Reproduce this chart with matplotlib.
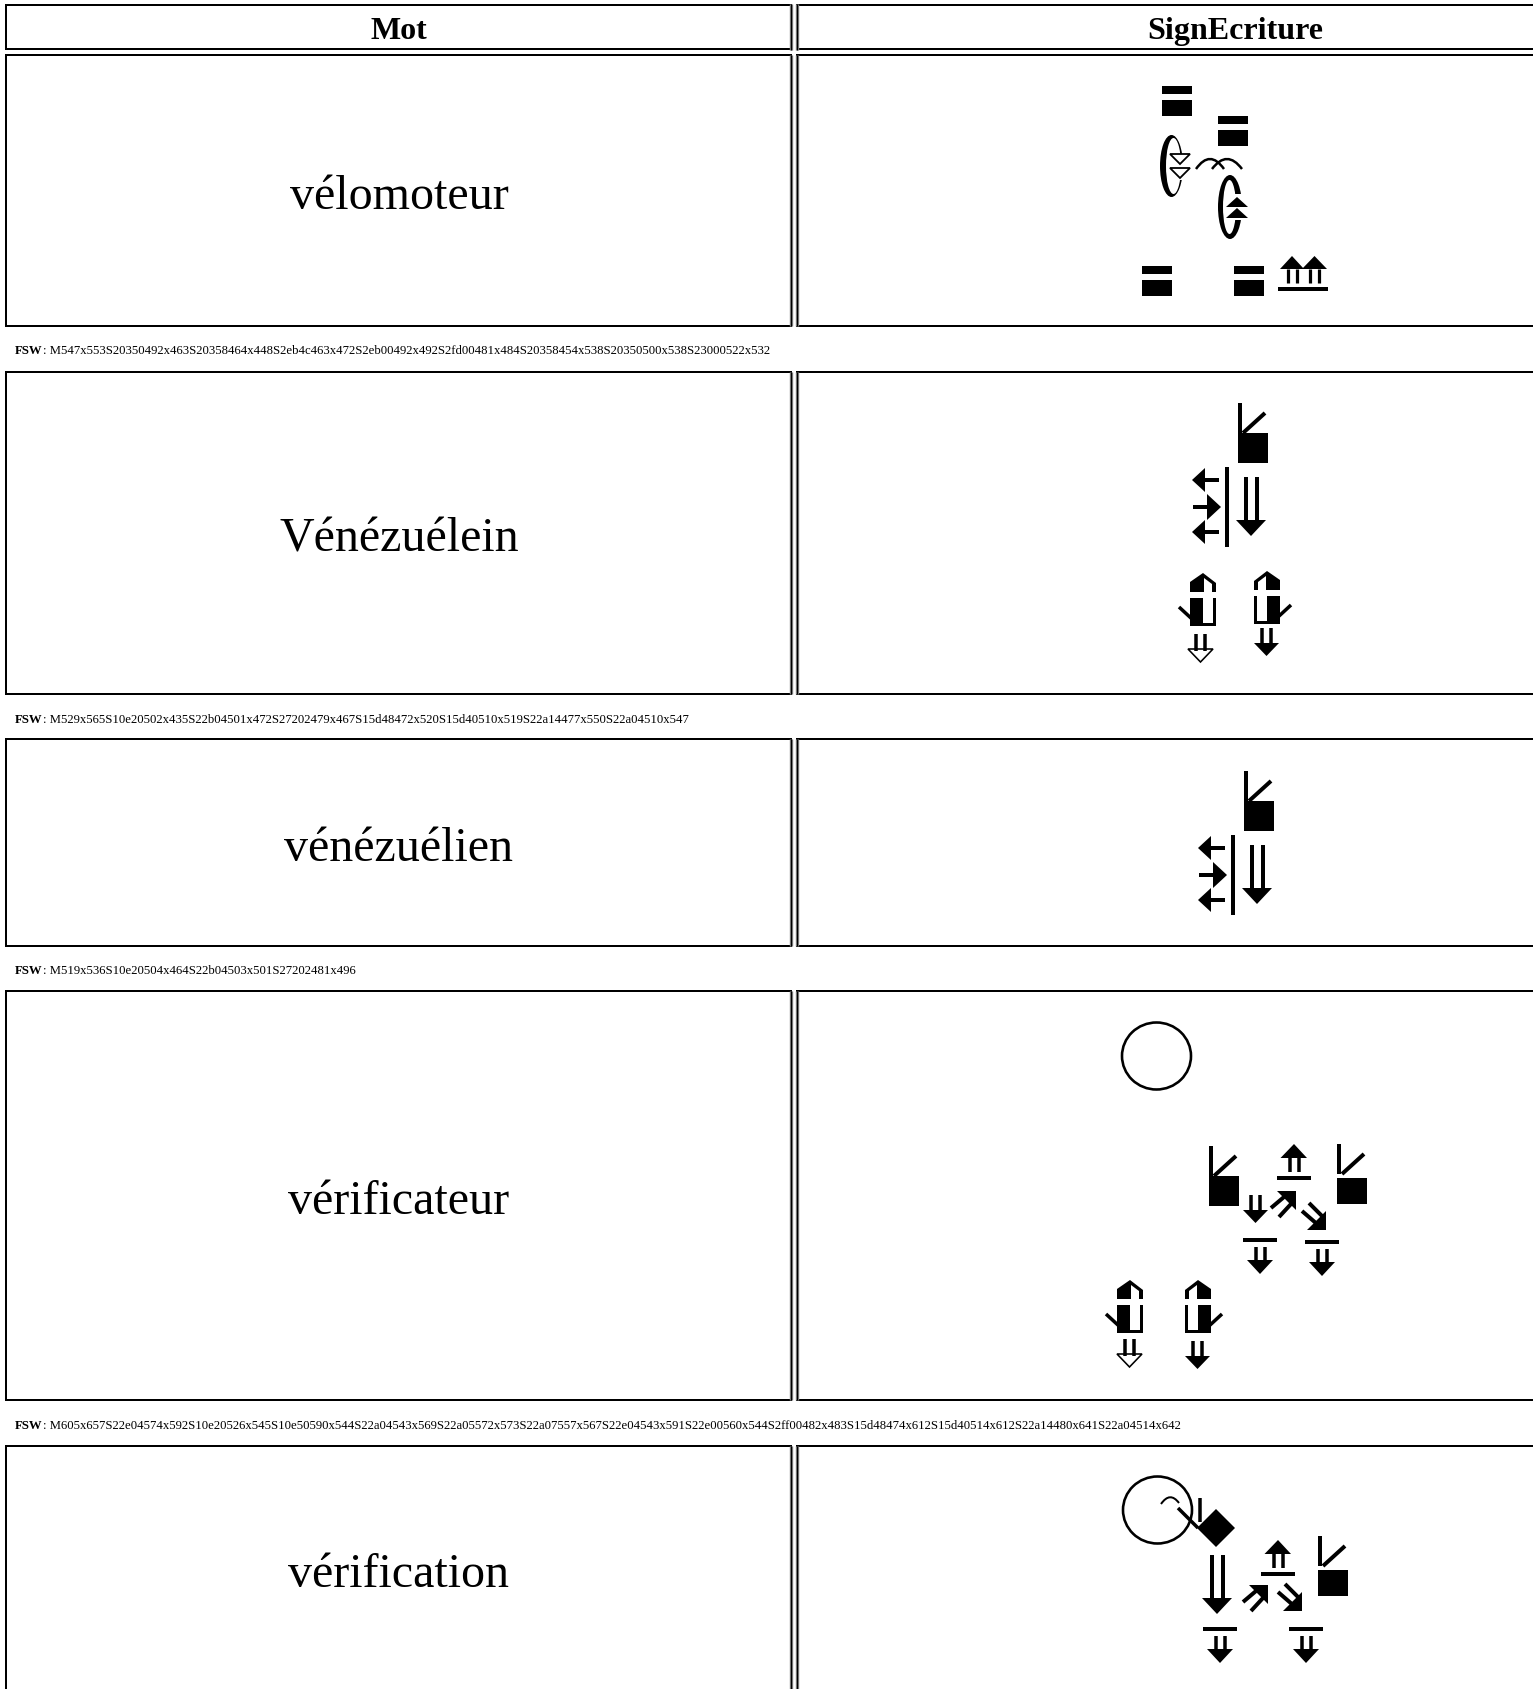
import re

import matplotlib
matplotlib.use('Agg')
import matplotlib.pyplot as plt
from matplotlib.patches import Rectangle, Polygon, Ellipse, PathPatch
from matplotlib.path import Path

plt.rcParams['font.family'] = ['Liberation Serif', 'DejaVu Serif']

# table content
headers = ['Mot', 'SignEcriture']
words = ['vélomoteur', 'Vénézuélein', 'vénézuélien', 'vérificateur', 'vérification']
fsw = [
    'M547x553S20350492x463S20358464x448S2eb4c463x472S2eb00492x492S2fd00481x484S20358454x538S20350500x538S23000522x532',
    'M529x565S10e20502x435S22b04501x472S27202479x467S15d48472x520S15d40510x519S22a14477x550S22a04510x547',
    'M519x536S10e20504x464S22b04503x501S27202481x496',
    'M605x657S22e04574x592S10e20526x545S10e50590x544S22a04543x569S22a05572x573S22a07557x567S22e04543x591S22e00560x544S2ff00482x483S15d48474x612S15d40514x612S22a14480x641S22a04514x642',
]
# last row is cut off before its FSW line, so its symbols are listed in pixels
last_row_symbols = [
    ('S2ff00', 1122, 1477), ('brow', 1161, 1496), ('diamond', 1178, 1499),
    ('S22b04', 1202, 1556), ('S22e00', 1261, 1541), ('S22a07', 1243, 1585),
    ('S22a05', 1277, 1584), ('S10e50', 1318, 1537),
    ('S22e04', 1203, 1628), ('S22e04', 1289, 1628),
]

# pixel layout of the page
row_tops = [56, 373, 740, 992, 1447]
row_bottoms = [327, 695, 947, 1401, 1720]
word_y = [197, 540, 849, 1202, 1575]
fsw_y = [354, 723, 974, 1429]
origins = [(234, -809), (234, -466), (236, -156), (157, 57)]
col_right = 791
col_left = 797

fig = plt.figure(figsize=(15.33, 16.90), dpi=100)
ax = fig.add_axes([0, 0, 1, 1])
ax.set_xlim(0, 1533)
ax.set_ylim(1690, 0)
ax.axis('off')


def px(v):
    return v * 0.72


def box(x, y, w, h, color='black'):
    ax.add_patch(Rectangle((x, y), w, h, fc=color, ec='none'))


def poly(x, y, pts, fill='black', lw=0):
    pts = [(x + a, y + b) for a, b in pts]
    ax.add_patch(Polygon(pts, closed=True, fc=fill, ec='black', lw=px(lw), joinstyle='miter'))


def seg(x, y, x1, y1, x2, y2, lw=4):
    ax.plot([x + x1, x + x2], [y + y1, y + y2], color='black', lw=px(lw), solid_capstyle='butt')


def curve(x, y, p0, c, p1, lw=2.5):
    verts = [(x + p0[0], y + p0[1]), (x + c[0], y + c[1]), (x + p1[0], y + p1[1])]
    ax.add_patch(PathPatch(Path(verts, [Path.MOVETO, Path.CURVE3, Path.CURVE3]),
                           fc='none', ec='black', lw=px(lw)))


def contact_bars(x, y):
    box(x, y, 30, 8)
    box(x, y + 14, 30, 16)


def hand_flat(x, y, gap=0):
    seg(x, y, 2, 0, 2, 30)
    seg(x, y, 5, 30, 27, 10)
    box(x, y + 30 + gap, 30, 30 - gap)


def long_arrow_down(x, y):
    seg(x, y, 9.5, 0, 9.5, 45)
    seg(x, y, 21, 0, 21, 45)
    poly(x, y, [(0, 43), (30, 43), (15, 59)])


def small_arrow_down(x, y, fill='black'):
    seg(x, y + 1, 8, 0, 8, 17, 3.5)
    seg(x, y + 1, 17, 0, 17, 17, 3.5)
    if fill == 'black':
        poly(x, y + 1, [(0, 15), (25, 15), (12.5, 28)])
    else:
        poly(x, y + 1, [(0, 15), (25, 15), (12.5, 28)], fill='white', lw=1.6)


def bar_arrow_down(x, y):
    box(x, y, 34, 4)
    seg(x, y, 12.5, 9, 12.5, 24, 3.5)
    seg(x, y, 21.5, 9, 21.5, 24, 3.5)
    poly(x, y, [(4, 22), (30, 22), (17, 36)])


def bar_arrow_up(x, y):
    poly(x, y, [(3.5, 14), (30, 14), (17, 0)])
    seg(x, y, 12.5, 14, 12.5, 28, 3.5)
    seg(x, y, 21.5, 14, 21.5, 28, 3.5)
    box(x, y + 32, 34, 4)


def two_arrows_up(x, y):
    y = y + 2
    poly(x, y, [(2, 13), (26, 13), (14, 0)])
    poly(x, y, [(24, 13), (49, 13), (36.5, 0)])
    for lx in (9.5, 18.5, 32, 41):
        seg(x, y, lx, 13, lx, 27, 3.2)
    box(x, y + 31, 50, 4)


def arrow_down_right(x, y):
    poly(x, y, [(25, 9), (25, 28), (6, 28)])
    seg(x, y, 1, 9, 16, 22, 4)
    seg(x, y, 8, 1, 22, 15, 4)


def arrow_up_right(x, y):
    poly(x, y, [(6, 1), (25, 1), (25, 20)])
    seg(x, y, 0, 18, 13, 7, 4)
    seg(x, y, 8, 27, 20, 14, 4)


def three_arrows(x, y):
    seg(x, y, 35, 0, 35, 80, 4)
    for cy in (13, 65):
        poly(x, y, [(0, cy), (13, cy - 12), (13, cy + 12)])
        seg(x, y, 12, cy, 27, cy, 4)
    poly(x, y, [(15, 27), (29, 40), (15, 53)])
    seg(x, y, 1, 40, 17, 40, 4)


def half_hand(x, y, mirror=False):
    # drawn for the left handed form, the other one is flipped around x=19
    def f(pts):
        return [(38 - a, b) for a, b in pts] if mirror else pts
    poly(x, y, f([(12, 19), (12, 9), (25, 0), (38, 10), (38, 19)]))
    ax.add_patch(Polygon([(x + a, y + b) for a, b in f([(26, 5), (34, 11), (34, 19), (26, 19)])],
                         closed=True, fc='white', ec='none'))
    poly(x, y, f([(12, 25), (38, 25), (38, 53), (12, 53)]))
    ax.add_patch(Polygon([(x + a, y + b) for a, b in f([(25, 25), (35, 25), (35, 50), (25, 50)])],
                         closed=True, fc='white', ec='none'))
    a, b = f([(1, 34), (14, 46)])
    seg(x, y, a[0], a[1], b[0], b[1], 3.5)


def head(x, y):
    ax.add_patch(Ellipse((x + 35.5, y + 34), 69, 67, fc='none', ec='black', lw=px(2.6)))


def ring(x, y, w, h, cx, iw, ih):
    # outer ellipse with an off-centre white one inside, so the stroke varies
    ax.add_patch(Ellipse((x + w / 2, y + h / 2), w, h, fc='black', ec='none'))
    ax.add_patch(Ellipse((x + cx, y + h / 2), iw, ih, fc='white', ec='none'))


def ring_down(x, y):
    ring(x, y + 1, 23, 62, 13.5, 15, 56)
    box(x + 8, y + 20, 24, 26, 'white')
    poly(x, y, [(10, 20), (30, 20), (20, 30)], fill='white', lw=1.8)
    poly(x, y, [(10, 34), (30, 34), (20, 44)], fill='white', lw=1.8)


def ring_up(x, y):
    ring(x, y + 1, 24, 64, 11.5, 13, 54)
    box(x + 14, y + 20, 12, 26, 'white')
    poly(x, y, [(8, 33), (30, 33), (19, 23)])
    poly(x, y, [(8, 44), (30, 44), (19, 34)])


def crossed_arcs(x, y):
    curve(x, y, (0, 11), (14, -9), (28, 11))
    curve(x, y, (16, 11), (31, -9), (46, 11))


def brow(x, y):
    curve(x, y, (0, 9), (9, -4), (18, 8), 2)


def diamond(x, y):
    # hand seen from the side, sitting on the head outline
    poly(x, y, [(38, 11), (57, 30), (38, 49), (19, 30)])
    seg(x, y, 22, 0, 22, 24, 3.5)
    seg(x, y, 0, 10, 20, 30, 3.5)


drawers = {
    'S20350': contact_bars,
    'S20358': contact_bars,
    'S2eb4c': ring_down,
    'S2eb00': ring_up,
    'S2fd00': crossed_arcs,
    'S23000': two_arrows_up,
    'S10e20': hand_flat,
    'S10e50': lambda x, y: hand_flat(x, y, 4),
    'S22b04': long_arrow_down,
    'S27202': three_arrows,
    'S15d48': half_hand,
    'S15d40': lambda x, y: half_hand(x, y, True),
    'S22a14': lambda x, y: small_arrow_down(x, y, 'white'),
    'S22a04': small_arrow_down,
    'S22a05': arrow_down_right,
    'S22a07': arrow_up_right,
    'S22e04': bar_arrow_down,
    'S22e00': bar_arrow_up,
    'S2ff00': head,
    'brow': brow,
    'diamond': diamond,
}


def cell(x0, x1, y0, y1):
    ax.add_patch(Rectangle((x0, y0), x1 - x0, y1 - y0, fc='white', ec='black', lw=px(2)))


# header row
cell(6, col_right, 6, 50)
cell(col_left, 1560, 6, 50)
ax.text(399, 31.5, headers[0], fontsize=23.04, fontweight='bold', ha='center', va='center')
ax.text(1235, 31.5, headers[1], fontsize=23.04, fontweight='bold', ha='center', va='center')

# word rows
for i, word in enumerate(words):
    cell(6, col_right, row_tops[i], row_bottoms[i])
    cell(col_left, 1560, row_tops[i], row_bottoms[i])
    ax.text(399, word_y[i], word, fontsize=34.56, ha='center', va='center')

# the vertical borders at the column gap are soft, grey either side of black
for top, bottom in zip([5] + row_tops, [51] + row_bottoms):
    for xline in (col_right, col_left):
        ax.plot([xline, xline], [top, bottom], color='#909090', lw=px(3.4), solid_capstyle='butt', zorder=3)
        ax.plot([xline, xline], [top, bottom], color='black', lw=px(1.4), solid_capstyle='butt', zorder=3)

# FSW lines and the symbols they describe
for i, code in enumerate(fsw):
    label = ax.text(15, fsw_y[i], 'FSW', fontsize=9.2, fontweight='bold', va='baseline')
    ax.annotate(': ' + code, xy=(1, 0), xycoords=label, fontsize=9.2, va='bottom')
    ox, oy = origins[i]
    for sym, sx, sy in re.findall(r'(S[0-9a-f]{5})(\d{3})x(\d{3})', code):
        drawers[sym](ox + 2 * int(sx), oy + 2 * int(sy))

for sym, sx, sy in last_row_symbols:
    drawers[sym](sx, sy)

plt.savefig('out.png', dpi=100, facecolor='white')
plt.close()
